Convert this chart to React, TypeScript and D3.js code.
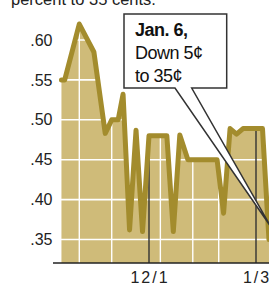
import React from "react";
import * as d3 from "d3";

// Day numbers: Nov 1 = 0, Dec 1 = 30, Jan 3 = 63
const dayValues: number[] = [3, 4, 8.5, 13, 16.5, 18.5, 20.5, 22, 24, 26, 28, 30, 35.5, 37.5, 39.5, 42, 51, 53, 55, 57, 59, 65, 67];
const priceValues: number[] = [0.55, 0.55, 0.62, 0.585, 0.483, 0.5, 0.5, 0.532, 0.362, 0.487, 0.36, 0.48, 0.48, 0.36, 0.481, 0.45, 0.45, 0.383, 0.489, 0.482, 0.489, 0.489, 0.35];

const yTickValues: number[] = [0.35, 0.4, 0.45, 0.5, 0.55, 0.6];
const yTickLabels: string[] = [".35", ".40", ".45", ".50", ".55", ".60"];
const xTickDays: number[] = [30, 63];
const xTickLabels: string[] = ["12/1", "1/3"];
const gridDays: number[] = [8.5, 18.5, 33.5, 43.5, 51.5];

const headline = "percent to 35 cents.";
const calloutLines: string[] = ["Jan. 6,", "Down 5\u00a2", "to 35\u00a2"];

const W = 269;
const H = 304;
const axisY = 263;
const FONT = "'Liberation Sans', Arial, Helvetica, sans-serif";

export default function App() {
  const x = d3.scaleLinear().domain([30, 63]).range([149, 256]);
  const y = d3.scaleLinear().domain([0.35, 0.6]).range([239.5, 40]);

  const data = dayValues.map((d, i) => ({ d, v: priceValues[i] }));

  const area = d3
    .area<{ d: number; v: number }>()
    .x((p) => x(p.d))
    .y0(axisY)
    .y1((p) => y(p.v));
  const line = d3
    .line<{ d: number; v: number }>()
    .x((p) => x(p.d))
    .y((p) => y(p.v));

  const interp = (day: number) => {
    for (let i = 0; i < data.length - 1; i++) {
      if (day >= data[i].d && day <= data[i + 1].d) {
        const t = (day - data[i].d) / (data[i + 1].d - data[i].d);
        return data[i].v + t * (data[i + 1].v - data[i].v);
      }
    }
    return data[data.length - 1].v;
  };

  const fill = "#cfbb79";
  const stroke = "#a38c2d";
  const dark = "#333";

  return (
    <svg
      width={W}
      height={H}
      style={{ position: "absolute", left: 0, top: 0, background: "#fff" }}
      fontFamily={FONT}
    >
      <text x={11} y={5} fontSize={16.5} fill="#222">
        {headline}
      </text>

      <path d={area(data) || ""} fill={fill} />

      {yTickValues.map((v, i) => (
        <line key={"hg" + i} x1={53} x2={W} y1={y(v)} y2={y(v)} stroke="#fff" strokeWidth={1.6} />
      ))}
      {gridDays.map((d, i) => (
        <line key={"vg" + i} x1={x(d)} x2={x(d)} y1={axisY} y2={30} stroke="#fff" strokeWidth={1.4} />
      ))}

      {xTickDays.map((d, i) => (
        <line key={"dl" + i} x1={x(d)} x2={x(d)} y1={axisY} y2={y(interp(d))} stroke={dark} strokeWidth={1.4} />
      ))}

      <path d={line(data) || ""} fill="none" stroke={stroke} strokeWidth={5} strokeLinejoin="round" strokeLinecap="round" />

      <line x1={53} x2={W} y1={axisY} y2={axisY} stroke="#222" strokeWidth={1.5} />

      {yTickValues.map((v, i) => (
        <text key={"yl" + i} x={52.5} y={y(v) + 5.6} textAnchor="end" fontSize={16} fill="#222">
          {yTickLabels[i]}
        </text>
      ))}
      {xTickDays.map((d, i) => (
        <text key={"xl" + i} x={x(d) + 1} y={282.5} textAnchor="middle" fontSize={16} fill="#222" letterSpacing={2}>
          {xTickLabels[i]}
        </text>
      ))}

      <path
        d="M124,14 H226.7 V88 H191.7 L271,227 L175,88 H124 Z"
        fill="#fff"
        stroke={dark}
        strokeWidth={1.5}
        strokeLinejoin="miter"
      />
      {calloutLines.map((t, i) => (
        <text
          key={"cl" + i}
          x={135}
          y={36 + i * 23.2}
          fontSize={18}
          fontWeight={i === 0 ? "bold" : "normal"}
          letterSpacing={-0.5}
          fill="#111"
        >
          {t}
        </text>
      ))}
    </svg>
  );
}
